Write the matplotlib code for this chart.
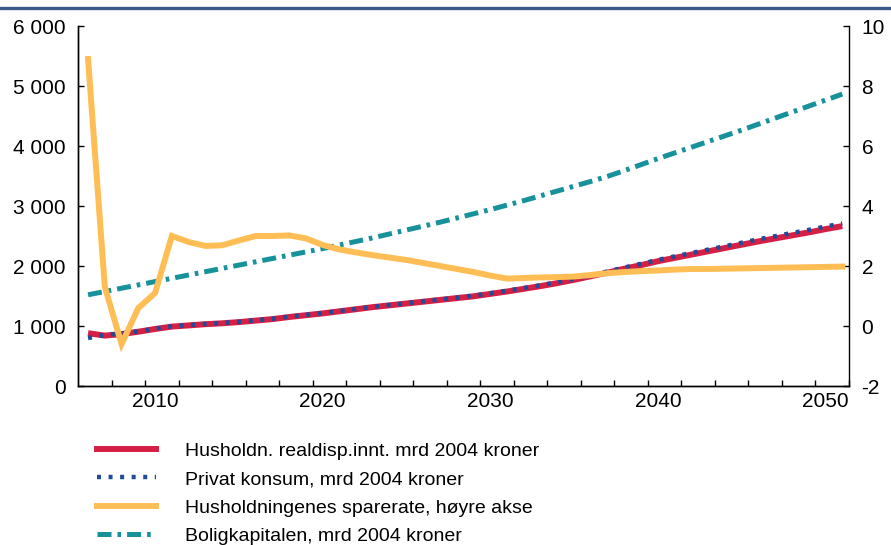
import matplotlib.pyplot as plt
from matplotlib.lines import Line2D
from matplotlib.ticker import FuncFormatter

plt.rcParams['font.family'] = ['Liberation Sans', 'DejaVu Sans']
plt.rcParams['font.size'] = 14
plt.rcParams['axes.unicode_minus'] = False

years = list(range(2006, 2052))

# Husholdningenes realdisponible inntekt, mrd 2004 kroner (left axis)
realdisp = [880, 840, 865, 905, 950, 990, 1010, 1030, 1045, 1065,
            1090, 1115, 1150, 1180, 1210, 1245, 1280, 1315, 1345, 1375,
            1405, 1435, 1465, 1495, 1535, 1575, 1620, 1665, 1715, 1770,
            1830, 1890, 1955, 2015, 2080, 2135, 2190, 2245, 2300, 2355,
            2410, 2460, 2510, 2560, 2615, 2665]

# Privat konsum, mrd 2004 kroner (left axis)
konsum = [800, 850, 875, 910, 955, 995, 1015, 1035, 1050, 1070,
          1095, 1120, 1155, 1185, 1215, 1250, 1285, 1320, 1350, 1380,
          1412, 1442, 1472, 1505, 1545, 1588, 1633, 1680, 1730, 1787,
          1848, 1910, 1975, 2037, 2102, 2160, 2217, 2274, 2330, 2388,
          2445, 2497, 2550, 2602, 2658, 2710]

# Husholdningenes sparerate, prosent (right axis)
sparerate = [8.9, 1.3, -0.6, 0.6, 1.1, 3.0, 2.8, 2.67, 2.69, 2.85,
             3.0, 3.0, 3.02, 2.92, 2.7, 2.55, 2.45, 2.36, 2.28, 2.2,
             2.1, 2.0, 1.9, 1.8, 1.68, 1.58, 1.6, 1.62, 1.63, 1.65,
             1.7, 1.76, 1.8, 1.83, 1.85, 1.88, 1.9, 1.9, 1.91, 1.92,
             1.93, 1.94, 1.95, 1.96, 1.97, 1.98]

# Boligkapitalen, mrd 2004 kroner (left axis)
boligkap = [1520, 1575, 1630, 1685, 1740, 1795, 1850, 1905, 1960, 2015,
            2070, 2125, 2180, 2235, 2290, 2350, 2410, 2470, 2535, 2600,
            2665, 2730, 2800, 2870, 2940, 3015, 3090, 3170, 3250, 3330,
            3410, 3495, 3590, 3690, 3790, 3885, 3980, 4075, 4170, 4265,
            4365, 4465, 4565, 4665, 4765, 4865]

labels = ["Husholdn. realdisp.innt. mrd 2004 kroner",
          "Privat konsum, mrd 2004 kroner",
          "Husholdningenes sparerate, høyre akse",
          "Boligkapitalen, mrd 2004 kroner"]

c_red = '#d51f45'
c_blue = '#1f4b98'
c_orange = '#ffbe55'
c_teal = '#18929a'

dots = (0, (0.9, 1.7))
dashdot = (0, (2.8, 1.2, 0.72, 1.2))

fig = plt.figure(figsize=(8.91, 5.45), dpi=100)
ax = fig.add_axes([78/891, 1 - 386/545, 771/891, 360/545])
ax2 = ax.twinx()

ax.plot(years, realdisp, color=c_red, lw=4.3, solid_capstyle='butt')
ax.plot(years, konsum, color=c_blue, lw=3.2, linestyle=dots, dash_capstyle='butt')
ax.plot(years, boligkap, color=c_teal, lw=3.6, linestyle=dashdot, dash_capstyle='butt')
ax2.plot(years, sparerate, color=c_orange, lw=4.3, solid_joinstyle='miter')

ax.set_xlim(2005.4, 2051.4)
ax.set_ylim(0, 6000)
ax2.set_ylim(-2, 10)

ax.set_yticks(range(0, 6001, 1000))
ax.yaxis.set_major_formatter(FuncFormatter(lambda v, p: f"{int(v):,}".replace(",", " ")))
ax2.set_yticks(range(-2, 11, 2))

ax.set_xticks(range(2010, 2051, 10))
ax.set_xticks([2005.4 + 2 * k for k in range(1, 24)], minor=True)

for a in (ax, ax2):
    a.spines['top'].set_visible(False)
    for s in a.spines.values():
        s.set_linewidth(1.0)
ax.spines['right'].set_visible(False)

ax.tick_params(axis='y', direction='in', length=4, width=1, pad=9, labelsize=15)
ax2.tick_params(axis='y', direction='in', length=4, width=1, pad=9, labelsize=15)
ax.tick_params(axis='x', which='major', length=0, pad=4, labelsize=15)
ax.tick_params(axis='x', which='minor', direction='in', length=4, width=1)

# blue bar at the top
fig.add_artist(Line2D([0, 1], [1 - 7.5/545, 1 - 7.5/545], color='#3c5a8c', lw=2.4))

handles = [
    Line2D([], [], color=c_red, lw=4.3),
    Line2D([], [], color=c_blue, lw=3.2, linestyle=dots, dash_capstyle='butt'),
    Line2D([], [], color=c_orange, lw=4.3),
    Line2D([], [], color=c_teal, lw=3.6, linestyle=dashdot, dash_capstyle='butt'),
]
fig.legend(handles, labels, loc='upper left', bbox_to_anchor=(97/891, 1 - 442/545),
           frameon=False, fontsize=14, handlelength=3.04, handletextpad=1.5,
           labelspacing=0.56, borderaxespad=0, borderpad=0)

fig.savefig('out.png', dpi=100)
